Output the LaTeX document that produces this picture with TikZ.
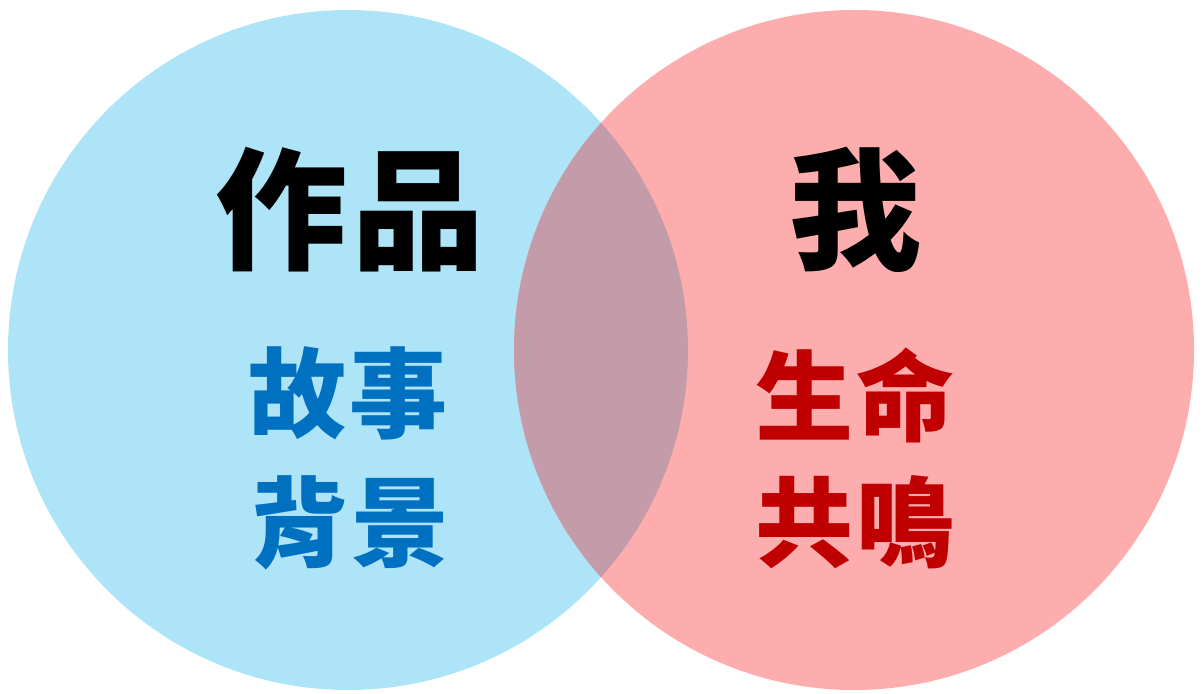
\documentclass[tikz,border=0pt]{standalone}
\usepackage{fontspec}
\newfontfamily\cjk{Noto Sans CJK TC}
\definecolor{cblue}{HTML}{AEE4F8}
\definecolor{cpink}{HTML}{FDADAE}
\definecolor{cmix}{HTML}{C49BA8}
\definecolor{tblue}{HTML}{0070C0}
\definecolor{tred}{HTML}{C00000}
\begin{document}
\begin{tikzpicture}[x=1pt,y=-1pt,
  big/.style={font=\cjk\bfseries\fontsize{132}{132}\selectfont, text=black, inner sep=0pt},
  small/.style={font=\cjk\bfseries\fontsize{98}{98}\selectfont, inner sep=0pt},
  ]
\useasboundingbox (0,0) rectangle (1204,693);
\coordinate (lc) at (348,350);
\coordinate (rc) at (854,350);
\fill[cblue] (lc) circle[radius=340];
\fill[cpink] (rc) circle[radius=340];
\begin{scope}
  \clip (lc) circle[radius=340];
  \fill[cmix] (rc) circle[radius=340];
\end{scope}
\node[big] (zuopin) at (350,210) {作\kern6pt品};
\node[big] (wo) at (855,210) {我};
\node[small, text=tblue] (gushi) at (348,393) {故\kern4pt事};
\node[small, text=tblue] (beijing) at (350,523) {背\kern4pt景};
\node[small, text=tred] (shengming) at (855,395) {生\kern4pt命};
\node[small, text=tred] (gongming) at (855,522) {共\kern4pt鳴};
\end{tikzpicture}
\end{document}
